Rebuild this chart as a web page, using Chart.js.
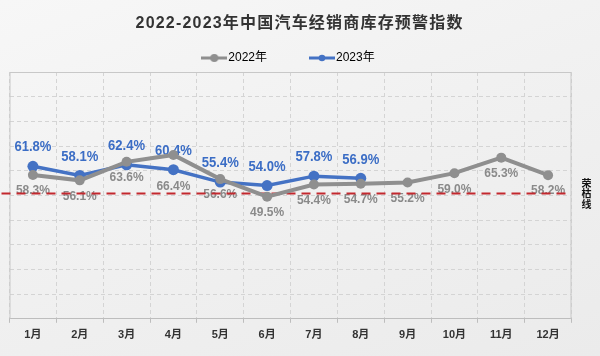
<!DOCTYPE html>
<html><head><meta charset="utf-8">
<script src="https://cdn.jsdelivr.net/npm/chart.js@4"></script>
<style>
html,body{margin:0;padding:0;}
body{width:600px;height:356px;overflow:hidden;background:linear-gradient(160deg,#f7f7f7 0%,#f1f1f1 45%,#ebebeb 100%);}
#wrap{position:relative;width:600px;height:356px;}
</style></head><body>
<div id="wrap"><canvas id="c" width="600" height="356"></canvas></div>
<script>
const chartTitle = '2022-2023年中国汽车经销商库存预警指数';
const months = ['1月','2月','3月','4月','5月','6月','7月','8月','9月','10月','11月','12月'];
const seriesNames = ['2022年','2023年'];
const values2022 = [58.3,56.1,63.6,66.4,56.6,49.5,54.4,54.7,55.2,59.0,65.3,58.2];
const values2023 = [61.8,58.1,62.4,60.4,55.4,54.0,57.8,56.9];
const thresholdValue = 50.8;
const thresholdLabel = '荣枯线';
const yMin = 0, yMax = 100, yStep = 10;

const FAM = '"Liberation Sans","Noto Sans CJK SC",sans-serif';
const CJK = '"Noto Sans CJK SC","Liberation Sans",sans-serif';
const GRAY = '#8f8f8f', BLUE = '#4472c4';
const GRAY_TXT = '#8a8a8a', BLUE_TXT = '#3b6dc5';
// extra downward shift for 2022 labels (avoid overlap)
const shift2022 = [0,0,0,16,0,0,0,0,0,0,0,0];

function legendIcon(color, r, lw){
  const c = document.createElement('canvas'); c.width = 26; c.height = 10;
  const g = c.getContext('2d');
  g.strokeStyle = color; g.lineWidth = lw;
  g.beginPath(); g.moveTo(0,5); g.lineTo(26,5); g.stroke();
  g.fillStyle = color; g.beginPath(); g.arc(13,5,r,0,Math.PI*2); g.fill();
  return c;
}
const icons = [legendIcon(GRAY,4,3), legendIcon(BLUE,3.3,3)];

const decor = {
  id: 'decor',
  beforeDatasetsDraw(chart){
    const ctx = chart.ctx, a = chart.chartArea;
    ctx.save();
    // frame
    ctx.strokeStyle = '#c8c8c8'; ctx.lineWidth = 1; ctx.setLineDash([]);
    ctx.beginPath();
    ctx.moveTo(a.left+0.5, a.bottom); ctx.lineTo(a.left+0.5, a.top+0.5);
    ctx.lineTo(a.right-0.5, a.top+0.5); ctx.lineTo(a.right-0.5, a.bottom);
    ctx.stroke();
    // labels
    ctx.textAlign = 'center'; ctx.textBaseline = 'middle';
    const m0 = chart.getDatasetMeta(0), m1 = chart.getDatasetMeta(1);
    ctx.fillStyle = GRAY_TXT; ctx.font = 'bold 12px ' + FAM;
    m0.data.forEach((p,i)=>{
      ctx.fillText(values2022[i].toFixed(1)+'%', p.x, p.y + 16 + shift2022[i]);
    });
    ctx.fillStyle = BLUE_TXT; ctx.font = 'bold 15px ' + FAM;
    m1.data.forEach((p,i)=>{
      ctx.save(); ctx.translate(p.x, p.y - 19); ctx.scale(0.87,1);
      ctx.fillText(values2023[i].toFixed(1)+'%', 0, 0);
      ctx.restore();
    });
    // threshold line
    const y = chart.scales.y.getPixelForValue(thresholdValue);
    ctx.strokeStyle = '#c3282e'; ctx.lineWidth = 2; ctx.setLineDash([9,6]);
    ctx.beginPath(); ctx.moveTo(a.left - 8, y); ctx.lineTo(a.right - 2, y); ctx.stroke();
    ctx.setLineDash([]);
    ctx.fillStyle = '#111'; ctx.font = 'bold 10px ' + CJK;
    const chars = Array.from(thresholdLabel);
    chars.forEach((ch,k)=>{
      ctx.fillText(ch, a.right + 15, y + (k - (chars.length-1)/2) * 10.5);
    });
    ctx.restore();
  },
  afterDraw(chart){
    const ctx = chart.ctx;
    ctx.save();
    ctx.font = 'bold 16px ' + FAM; ctx.fillStyle = '#333';
    ctx.textAlign = 'left'; ctx.textBaseline = 'middle';
    const ls = 1.2;
    const chars = Array.from(chartTitle);
    const ws = chars.map(ch => ctx.measureText(ch).width);
    const total = ws.reduce((s,w)=>s+w,0) + ls*(chars.length-1);
    let x = 299 - total/2;
    chars.forEach((ch,k)=>{ ctx.fillText(ch, x, 24); x += ws[k] + ls; });
    ctx.restore();
  }
};

new Chart(document.getElementById('c'), {
  type: 'line',
  data: {
    labels: months,
    datasets: [
      {label: seriesNames[0], data: values2022, borderColor: GRAY, backgroundColor: GRAY,
       borderWidth: 4, pointRadius: 5, pointBackgroundColor: GRAY, pointBorderWidth: 0, tension: 0},
      {label: seriesNames[1], data: values2023, borderColor: BLUE, backgroundColor: BLUE,
       borderWidth: 3.5, pointRadius: 5.5, pointBackgroundColor: BLUE, pointBorderWidth: 0, tension: 0}
    ]
  },
  options: {
    responsive: false, animation: false,
    events: [],
    layout: {padding: {top: 5, left: 9.5, right: 28.5, bottom: 8}},
    plugins: {
      title: {display: false},
      tooltip: {enabled: false},
      legend: {
        position: 'top', maxHeight: 67,
        labels: {
          usePointStyle: true, pointStyleWidth: 16, boxHeight: 12,
          padding: 47, color: '#000', font: {size: 12, family: FAM},
          generateLabels: (chart) => chart.data.datasets.map((ds,i)=>({
            text: ds.label, pointStyle: icons[i], datasetIndex: i, hidden: false,
            lineWidth: 0, fillStyle: ds.borderColor, strokeStyle: ds.borderColor, fontColor: '#000'
          }))
        }
      }
    },
    scales: {
      x: {
        offset: true,
        grid: {offset: true, color: '#d4d4d4', tickColor: '#bdbdbd', tickLength: 4, lineWidth: 1},
        border: {color: '#bdbdbd', width: 1, dash: [4,3]},
        ticks: {color: '#333', font: {size: 11, weight: 'bold', family: FAM}, padding: 6, maxRotation: 0, autoSkip: false}
      },
      y: {
        min: yMin, max: yMax,
        ticks: {display: false, stepSize: yStep},
        grid: {color: '#d4d4d4', drawTicks: false, lineWidth: 1},
        border: {display: false, dash: [4,3]}
      }
    }
  },
  plugins: [decor]
});
</script>
</body></html>
